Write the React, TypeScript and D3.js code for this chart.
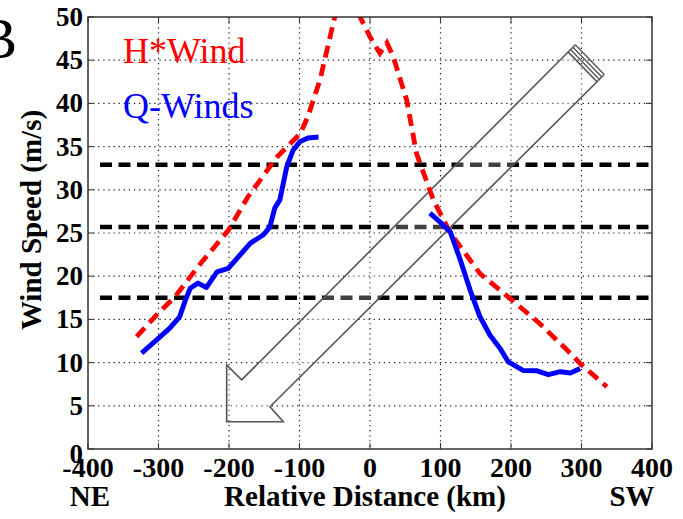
import React, { useEffect, useRef } from "react";
import * as d3 from "d3";

// H*Wind analysis (red dashed)
const hwindX = [-331, -303, -277, -240, -201, -173, -132, -99, -88, -71, -50, -32, -14, 0, 14, 24, 33, 52, 66, 90, 114, 156, 199, 241, 279, 298, 336];
const hwindY = [13.0, 15.5, 17.6, 21.5, 25.3, 29.2, 33.8, 36.5, 38.5, 42.7, 50, 53, 50, 47.7, 45.8, 47, 45.4, 40.4, 34.2, 28.8, 25, 20.3, 17.4, 14.5, 11.5, 9.9, 7.2];

// Q-Winds, NE side and SW side (blue)
const qwindNeX = [-324, -303, -284, -270, -262, -255, -244, -232, -217, -201, -170, -151, -142, -135, -128, -118, -109, -99, -88, -73];
const qwindNeY = [11.1, 12.6, 14.0, 15.3, 17.2, 18.6, 19.2, 18.7, 20.5, 20.9, 23.8, 24.8, 25.7, 27.9, 28.8, 32.7, 34.6, 35.6, 36.0, 36.1];
const qwindSwX = [85, 99, 114, 128, 142, 156, 170, 184, 196, 217, 236, 253, 270, 284, 298];
const qwindSwY = [27.3, 26.3, 25.1, 21.9, 18.4, 15.3, 13.2, 11.7, 10.1, 9.1, 9.06, 8.6, 8.95, 8.8, 9.3];

// wind thresholds (64 kt, 50 kt, 34 kt)
const thresholds = [32.9, 25.7, 17.5];

const xTicks = [-400, -300, -200, -100, 0, 100, 200, 300, 400];
const yTicks = [0, 5, 10, 15, 20, 25, 30, 35, 40, 45, 50];

// direction arrow outline in data units
const arrowX = [281, -182, -203.3, -203.3, -123, -141.8, 322];
const arrowY = [45.95, 8.0, 9.72, 3.16, 3.16, 4.9, 42.5];

export default function App() {
  const ref = useRef<SVGSVGElement>(null);

  useEffect(() => {
    document.body.style.margin = "0";
    const svg = d3.select(ref.current);
    svg.selectAll("*").remove();

    const left = 88, right = 652, top = 17, bottom = 449;
    const x = d3.scaleLinear().domain([-400, 400]).range([left, right]);
    const y = d3.scaleLinear().domain([0, 50]).range([bottom, top]);
    const font = "'Liberation Serif', 'Times New Roman', serif";

    svg.append("defs").append("clipPath").attr("id", "plotclip")
      .append("rect").attr("x", left).attr("y", top).attr("width", right - left).attr("height", bottom - top);

    // grid
    const grid = svg.append("g");
    grid.selectAll(".gx").data(xTicks.slice(1, -1)).join("line")
      .attr("x1", (d) => x(d)).attr("x2", (d) => x(d)).attr("y1", top).attr("y2", bottom)
      .attr("stroke", "#222").attr("stroke-width", 1.2).attr("stroke-dasharray", "1.3,3.8");
    grid.selectAll(".gy").data(yTicks.slice(1, -1)).join("line")
      .attr("y1", (d) => y(d)).attr("y2", (d) => y(d)).attr("x1", left).attr("x2", right)
      .attr("stroke", "#222").attr("stroke-width", 1.2).attr("stroke-dasharray", "1.3,3.8");

    // threshold lines
    svg.append("g").selectAll("line").data(thresholds).join("line")
      .attr("x1", x(-383)).attr("x2", x(400)).attr("y1", (d) => y(d)).attr("y2", (d) => y(d))
      .attr("stroke", "#000").attr("stroke-width", 4.5).attr("stroke-dasharray", "12,6.5");

    // arrow
    const arrowPts: [number, number][] = arrowX.map((v, i) => [x(v), y(arrowY[i])]);
    svg.append("path")
      .attr("d", d3.line()(arrowPts) + "Z")
      .attr("fill", "rgba(255,255,255,0.25)").attr("stroke", "#555").attr("stroke-width", 1.6);
    // striped end cap
    const a = arrowPts[0], b = arrowPts[6];
    [2.4, 4.8, 7.2].forEach((o) => {
      svg.append("line")
        .attr("x1", a[0] + o).attr("y1", a[1] - o).attr("x2", b[0] + o).attr("y2", b[1] - o)
        .attr("stroke", "#555").attr("stroke-width", 1.4);
    });
    svg.append("line").attr("x1", a[0]).attr("y1", a[1]).attr("x2", a[0] + 7.2).attr("y2", a[1] - 7.2).attr("stroke", "#555").attr("stroke-width", 1.4);
    svg.append("line").attr("x1", b[0]).attr("y1", b[1]).attr("x2", b[0] + 7.2).attr("y2", b[1] - 7.2).attr("stroke", "#555").attr("stroke-width", 1.4);

    const line = d3.line<[number, number]>().x((d) => x(d[0])).y((d) => y(d[1]));
    const plot = svg.append("g").attr("clip-path", "url(#plotclip)");

    plot.append("path")
      .attr("d", line(hwindX.map((v, i) => [v, hwindY[i]])))
      .attr("fill", "none").attr("stroke", "#ff0000").attr("stroke-width", 4.8)
      .attr("stroke-dasharray", "12,7");

    [[qwindNeX, qwindNeY], [qwindSwX, qwindSwY]].forEach(([xs, ys]) => {
      plot.append("path")
        .attr("d", line(xs.map((v, i) => [v, ys[i]])))
        .attr("fill", "none").attr("stroke", "#0000ff").attr("stroke-width", 5)
        .attr("stroke-linejoin", "round");
    });

    // frame and ticks
    svg.append("rect").attr("x", left).attr("y", top).attr("width", right - left).attr("height", bottom - top)
      .attr("fill", "none").attr("stroke", "#333").attr("stroke-width", 1.5);
    const tl = 6;
    xTicks.forEach((t) => {
      svg.append("line").attr("x1", x(t)).attr("x2", x(t)).attr("y1", bottom).attr("y2", bottom - tl).attr("stroke", "#333");
      svg.append("line").attr("x1", x(t)).attr("x2", x(t)).attr("y1", top).attr("y2", top + tl).attr("stroke", "#333");
    });
    yTicks.forEach((t) => {
      svg.append("line").attr("x1", left).attr("x2", left + tl).attr("y1", y(t)).attr("y2", y(t)).attr("stroke", "#333");
      svg.append("line").attr("x1", right).attr("x2", right - tl).attr("y1", y(t)).attr("y2", y(t)).attr("stroke", "#333");
    });

    // tick labels
    svg.append("g").selectAll("text").data(xTicks).join("text")
      .attr("x", (d) => x(d)).attr("y", 477).attr("text-anchor", "middle")
      .attr("font-family", font).attr("font-weight", "bold").attr("font-size", 28)
      .text((d) => String(d));
    svg.append("g").selectAll("text").data(yTicks).join("text")
      .attr("x", 83).attr("y", (d) => (d === 0 ? 463 : y(d) + 9)).attr("text-anchor", "end")
      .attr("font-family", font).attr("font-weight", "bold").attr("font-size", 27)
      .text((d) => String(d));

    // axis labels
    svg.append("text")
      .attr("transform", "translate(41,220) rotate(-90)")
      .attr("text-anchor", "middle")
      .attr("font-family", font).attr("font-weight", "bold").attr("font-size", 29)
      .text("Wind Speed (m/s)");
    svg.append("text").attr("x", 365).attr("y", 506).attr("text-anchor", "middle")
      .attr("font-family", font).attr("font-weight", "bold").attr("font-size", 29)
      .text("Relative Distance (km)");
    svg.append("text").attr("x", 90).attr("y", 506).attr("text-anchor", "middle")
      .attr("font-family", font).attr("font-weight", "bold").attr("font-size", 29).text("NE");
    svg.append("text").attr("x", 632).attr("y", 506).attr("text-anchor", "middle")
      .attr("font-family", font).attr("font-weight", "bold").attr("font-size", 29).text("SW");

    // panel letter (cut by the left edge, as in the source figure)
    svg.append("text").attr("x", -21).attr("y", 58)
      .attr("font-family", font).attr("font-size", 57).text("B");

    // legend
    svg.append("text").attr("x", 123).attr("y", 63)
      .attr("font-family", font).attr("font-size", 36).attr("fill", "#ff0000").text("H*Wind");
    svg.append("text").attr("x", 123).attr("y", 118)
      .attr("font-family", font).attr("font-size", 36).attr("fill", "#0000ff").text("Q-Winds");
  }, []);

  return (
    <svg ref={ref} width={683} height={519}
      style={{ position: "absolute", left: 0, top: 0, background: "#fff" }} />
  );
}
